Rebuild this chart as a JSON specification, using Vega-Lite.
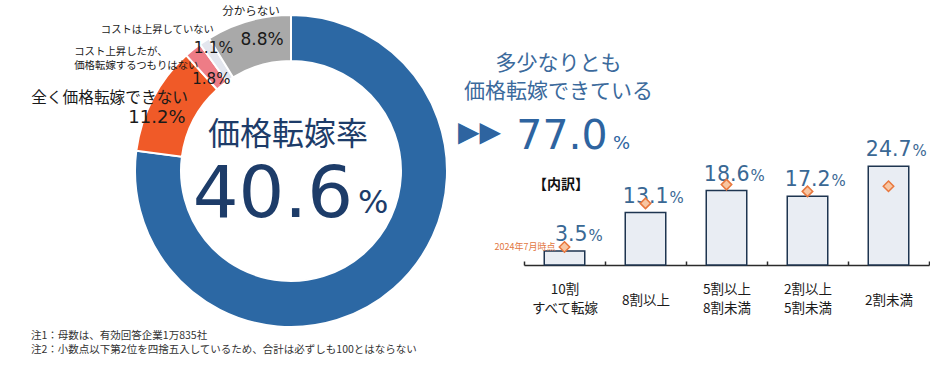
{
  "$schema": "https://vega.github.io/schema/vega-lite/v6.json",
  "padding": {"left": 27, "top": 3, "right": 0, "bottom": 0},
  "bounds": "flush",
  "spacing": 73,
  "datasets": {
    "summary": [{"grp": "多少なりとも価格転嫁できている", "pct": 77.0}]
  },
  "config": {
    "view": {"stroke": null},
    "font": "Noto Sans CJK JP",
    "axisX": {
      "domainColor": "#2B2B2B", "domainWidth": 1.5,
      "tickColor": "#2B2B2B", "tickWidth": 1.5, "tickSize": -4, "tickBand": "extent",
      "labelFontSize": 13.5, "labelColor": "#1A1A1A", "labelLineHeight": 19,
      "labelBaseline": "middle", "labelAngle": 0, "grid": false,
      "labelFont": "Noto Sans CJK JP"
    }
  },
  "hconcat": [
    {
      "width": 320,
      "height": 320,
      "data": {"values": [
        {"idx": 1, "cat": "多少なりとも価格転嫁できている", "name": "多少なりとも価格転嫁できている", "share": 0.770},
        {"idx": 2, "cat": "全く価格転嫁できない", "name": "全く価格転嫁できない", "share": 0.112},
        {"idx": 3, "cat": "コスト上昇したが、価格転嫁するつもりはない", "name": "コスト上昇したが、\n価格転嫁するつもりはない", "share": 0.018},
        {"idx": 4, "cat": "コストは上昇していない", "name": "コストは上昇していない", "share": 0.011},
        {"idx": 5, "cat": "分からない", "name": "分からない", "share": 0.088}
      ]},
      "title": {
        "text": ["注1：母数は、有効回答企業1万835社", "注2：小数点以下第2位を四捨五入しているため、合計は必ずしも100とはならない"],
        "orient": "bottom", "anchor": "start", "frame": "group", "dx": -100, "offset": -2,
        "fontSize": 10.5, "fontWeight": "normal", "color": "#333333", "lineHeight": 14,
        "font": "Noto Sans CJK JP"
      },
      "layer": [
        {
          "mark": {"type": "arc", "innerRadius": 110, "outerRadius": 156, "stroke": "#FFFFFF", "strokeWidth": 2},
          "encoding": {
            "theta": {"field": "share", "type": "quantitative", "stack": true},
            "order": {"field": "idx", "type": "quantitative"},
            "color": {"field": "cat", "type": "nominal", "legend": null,
              "scale": {
                "domain": ["多少なりとも価格転嫁できている", "全く価格転嫁できない", "コスト上昇したが、価格転嫁するつもりはない", "コストは上昇していない", "分からない"],
                "range": ["#2C68A4", "#F05A28", "#EE7C86", "#E3E6EE", "#A9A9A9"]
              }}
          }
        },
        {
          "mark": {"type": "text", "radius": 135, "dx": 8, "dy": -1, "align": "center", "baseline": "middle", "font": "DejaVu Sans", "fontSize": 17, "fill": "#1A1A1A"},
          "encoding": {
            "theta": {"field": "share", "type": "quantitative", "stack": true},
            "order": {"field": "idx", "type": "quantitative"},
            "detail": {"field": "cat", "type": "nominal"},
            "text": {"field": "share", "type": "quantitative", "format": ".1%", "condition": {"test": "datum.idx !== 5", "value": ""}}
          }
        },
        {
          "mark": {"type": "text", "radius": 165, "dx": 5, "dy": 0, "align": "center", "baseline": "middle", "fontSize": 11.5, "fill": "#1A1A1A"},
          "encoding": {
            "theta": {"field": "share", "type": "quantitative", "stack": true},
            "order": {"field": "idx", "type": "quantitative"},
            "detail": {"field": "cat", "type": "nominal"},
            "text": {"field": "name", "type": "nominal", "condition": {"test": "datum.idx !== 5", "value": ""}}
          }
        },
        {
          "mark": {"type": "text", "radius": 145, "dx": 3, "dy": -2, "align": "center", "baseline": "middle", "font": "DejaVu Sans", "fontSize": 15.5, "fill": "#1A1A1A"},
          "encoding": {
            "theta": {"field": "share", "type": "quantitative", "stack": true},
            "order": {"field": "idx", "type": "quantitative"},
            "detail": {"field": "cat", "type": "nominal"},
            "text": {"field": "share", "type": "quantitative", "format": ".1%", "condition": {"test": "datum.idx !== 4", "value": ""}}
          }
        },
        {
          "mark": {"type": "text", "radius": 168, "dx": 16, "dy": -1, "align": "right", "baseline": "middle", "fontSize": 10.3, "fill": "#1A1A1A"},
          "encoding": {
            "theta": {"field": "share", "type": "quantitative", "stack": true},
            "order": {"field": "idx", "type": "quantitative"},
            "detail": {"field": "cat", "type": "nominal"},
            "text": {"field": "name", "type": "nominal", "condition": {"test": "datum.idx !== 4", "value": ""}}
          }
        },
        {
          "mark": {"type": "text", "radius": 122, "dx": -3, "dy": 3, "align": "center", "baseline": "middle", "font": "DejaVu Sans", "fontSize": 15, "fill": "#1A1A1A"},
          "encoding": {
            "theta": {"field": "share", "type": "quantitative", "stack": true},
            "order": {"field": "idx", "type": "quantitative"},
            "detail": {"field": "cat", "type": "nominal"},
            "text": {"field": "share", "type": "quantitative", "format": ".1%", "condition": {"test": "datum.idx !== 3", "value": ""}}
          }
        },
        {
          "mark": {"type": "text", "radius": 180, "dx": -103.7, "dy": 21.5, "align": "left", "baseline": "middle", "fontSize": 10.4, "lineBreak": "\n", "lineHeight": 13.5, "fill": "#1A1A1A"},
          "encoding": {
            "theta": {"field": "share", "type": "quantitative", "stack": true},
            "order": {"field": "idx", "type": "quantitative"},
            "detail": {"field": "cat", "type": "nominal"},
            "text": {"field": "name", "type": "nominal", "condition": {"test": "datum.idx !== 3", "value": ""}}
          }
        },
        {
          "mark": {"type": "text", "radius": 148, "dx": -3, "dy": 16, "align": "center", "baseline": "middle", "font": "DejaVu Sans", "fontSize": 18, "fill": "#1A1A1A"},
          "encoding": {
            "theta": {"field": "share", "type": "quantitative", "stack": true},
            "order": {"field": "idx", "type": "quantitative"},
            "detail": {"field": "cat", "type": "nominal"},
            "text": {"field": "share", "type": "quantitative", "format": ".1%", "condition": {"test": "datum.idx !== 2", "value": ""}}
          }
        },
        {
          "mark": {"type": "text", "radius": 170, "dx": 47.6, "dy": 6.2, "align": "right", "baseline": "middle", "fontSize": 15.7, "fill": "#1A1A1A"},
          "encoding": {
            "theta": {"field": "share", "type": "quantitative", "stack": true},
            "order": {"field": "idx", "type": "quantitative"},
            "detail": {"field": "cat", "type": "nominal"},
            "text": {"field": "name", "type": "nominal", "condition": {"test": "datum.idx !== 2", "value": ""}}
          }
        },
        {
          "data": {"values": [{"name": "価格転嫁率", "rate": 40.6}]},
          "mark": {"type": "text", "align": "center", "baseline": "middle", "dx": -3, "dy": -36, "fontSize": 32, "fill": "#1D3C69"},
          "encoding": {"text": {"field": "name", "type": "nominal"}}
        },
        {
          "data": {"values": [{"name": "価格転嫁率", "rate": 40.6}]},
          "mark": {"type": "text", "align": "right", "baseline": "alphabetic", "dx": 62, "dy": 46, "font": "DejaVu Sans", "fontSize": 72, "fill": "#1D3C69"},
          "encoding": {"text": {"field": "rate", "type": "quantitative", "format": ".1f"}}
        },
        {
          "data": {"values": [{"name": "価格転嫁率", "rate": 40.6}]},
          "mark": {"type": "text", "align": "left", "baseline": "alphabetic", "dx": 67, "dy": 42, "font": "DejaVu Sans", "fontSize": 32, "fill": "#1D3C69"},
          "encoding": {"text": {"value": "%"}}
        }
      ]
    },
    {
      "width": 405,
      "height": 254,
      "data": {"values": [
        {"idx": 1, "grp": "多少なりとも価格転嫁できている", "k": "10割すべて転嫁", "v": 3.5, "prev": 4.5},
        {"idx": 2, "grp": "多少なりとも価格転嫁できている", "k": "8割以上", "v": 13.1, "prev": 15.4},
        {"idx": 3, "grp": "多少なりとも価格転嫁できている", "k": "5割以上8割未満", "v": 18.6, "prev": 20.1},
        {"idx": 4, "grp": "多少なりとも価格転嫁できている", "k": "2割以上5割未満", "v": 17.2, "prev": 18.4},
        {"idx": 5, "grp": "多少なりとも価格転嫁できている", "k": "2割未満", "v": 24.7, "prev": 19.7}
      ]},
      "encoding": {
        "x": {"field": "k", "type": "nominal", "title": null,
          "scale": {"domain": ["10割すべて転嫁", "8割以上", "5割以上8割未満", "2割以上5割未満", "2割未満"], "paddingInner": 0, "paddingOuter": 0},
          "axis": {
            "labelExpr": "datum.label == '10割すべて転嫁' ? ['10割', 'すべて転嫁'] : datum.label == '5割以上8割未満' ? ['5割以上', '8割未満'] : datum.label == '2割以上5割未満' ? ['2割以上', '5割未満'] : datum.label",
            "labelPadding": {"condition": {"test": "datum.value == '8割以上' || datum.value == '2割未満'", "value": 39}, "value": 28}
          }},
        "y": {"field": "v", "type": "quantitative", "scale": {"domain": [0, 63.5], "nice": false}, "axis": null}
      },
      "layer": [
        {"mark": {"type": "bar", "width": {"band": 0.5}, "fill": "#E9EDF3", "stroke": "#1E3550", "strokeWidth": 1.5}},
        {
          "mark": {"type": "text", "align": "right", "baseline": "alphabetic", "dx": 23, "dy": -10, "font": "DejaVu Sans", "fontSize": 20.5, "fill": "#3A6894"},
          "encoding": {"text": {"field": "v", "type": "quantitative", "format": ".1f"}}
        },
        {
          "mark": {"type": "text", "align": "left", "baseline": "alphabetic", "dx": 24, "dy": -10, "font": "DejaVu Sans", "fontSize": 15, "fill": "#3A6894"},
          "encoding": {"text": {"value": "%"}}
        },
        {
          "mark": {"type": "point", "shape": "diamond", "filled": true, "size": 110, "fill": "#F8C6A2", "stroke": "#E8773D", "strokeWidth": 1.5, "opacity": 1},
          "encoding": {"y": {"field": "prev", "type": "quantitative"}}
        },
        {
          "transform": [{"filter": "datum.idx === 1"}],
          "mark": {"type": "text", "align": "right", "baseline": "middle", "dx": -9, "fontSize": 9, "fill": "#E2773F"},
          "encoding": {"y": {"field": "prev", "type": "quantitative"}, "text": {"value": "2024年7月時点"}}
        },
        {
          "transform": [{"filter": "datum.idx === 1"}],
          "mark": {"type": "text", "align": "center", "baseline": "middle", "dx": -3.5, "fontSize": 14, "fontWeight": "bold", "fill": "#111111"},
          "encoding": {
            "y": {"datum": 19.9, "type": "quantitative"},
            "text": {"value": "【内訳】"}
          }
        },
        {
          "transform": [{"filter": "datum.idx === 1"}],
          "mark": {"type": "text", "align": "center", "baseline": "middle", "dx": -6, "fontSize": 21, "lineHeight": 27.5, "fill": "#3B6A9C"},
          "encoding": {
            "y": {"datum": 50.25, "type": "quantitative"},
            "text": {"value": ["多少なりとも", "価格転嫁できている"]}
          }
        },
        {
          "transform": [{"filter": "datum.idx === 1"}, {"lookup": "grp", "from": {"data": {"name": "summary"}, "key": "grp", "fields": ["pct"]}}],
          "mark": {"type": "text", "align": "center", "baseline": "alphabetic", "dx": -2.5, "font": "DejaVu Sans", "fontSize": 41, "fill": "#2E64A0"},
          "encoding": {
            "y": {"datum": 29, "type": "quantitative"},
            "text": {"field": "pct", "type": "quantitative", "format": ".1f"}
          }
        },
        {
          "transform": [{"filter": "datum.idx === 1"}],
          "mark": {"type": "text", "align": "left", "baseline": "alphabetic", "dx": 48.5, "font": "DejaVu Sans", "fontSize": 18, "fill": "#2E64A0"},
          "encoding": {
            "y": {"datum": 29, "type": "quantitative"},
            "text": {"value": "%"}
          }
        },
        {
          "transform": [{"filter": "datum.idx === 1"}],
          "mark": {"type": "text", "align": "right", "baseline": "middle", "dx": -63.5, "font": "DejaVu Sans", "fontSize": 28, "fill": "#2E64A0"},
          "encoding": {
            "y": {"datum": 33.1, "type": "quantitative"},
            "text": {"value": "▶▶"}
          }
        }
      ]
    }
  ]
}
